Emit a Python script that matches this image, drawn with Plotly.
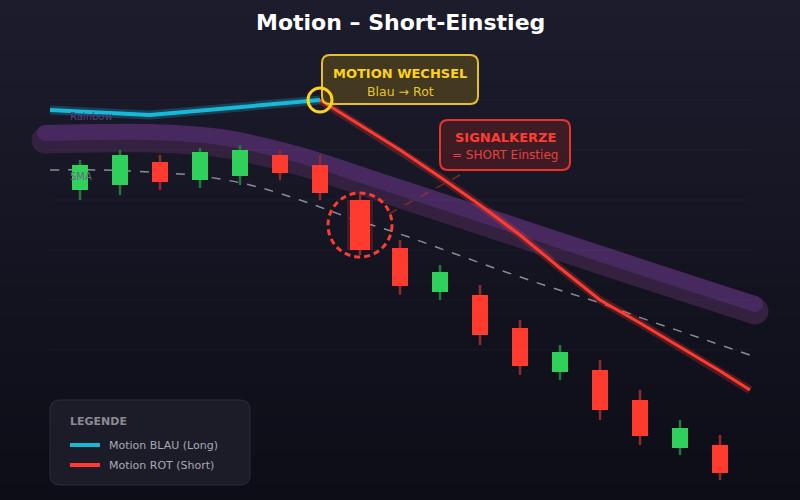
import plotly.graph_objects as go

# Kerzen (Preis-Einheiten)
kerzen_x = [80, 120, 160, 200, 240, 280, 320, 360, 400, 440, 480, 520, 560, 600, 640, 680, 720]
kerzen_open = [310, 315, 338, 320, 324, 345, 335, 300, 252, 208, 205, 172, 128, 130, 100, 52, 55]
kerzen_close = [335, 345, 318, 348, 350, 327, 307, 250, 214, 228, 165, 134, 148, 90, 64, 72, 27]
kerzen_high = [340, 350, 345, 352, 355, 350, 345, 305, 260, 235, 215, 180, 155, 140, 110, 80, 65]
kerzen_low = [300, 305, 310, 312, 315, 320, 300, 245, 205, 200, 155, 125, 120, 80, 55, 45, 20]
signal_idx = 7

# Motion Linie
blau_x = [50, 150, 320]
blau_y = [390, 385, 400]
rot_x = [320, 360, 400, 440, 480, 520, 560, 600, 640, 680, 720, 750]
rot_y = [400, 375, 350, 323, 295, 265, 232, 200, 177, 153, 129, 110]

# SMA
sma_x = [50, 100, 150, 200, 250, 300, 350, 400, 450, 500, 550, 600, 650, 700, 750]
sma_y = [330, 330, 328, 324, 315, 300, 282, 266, 248, 230, 213, 197, 179, 162, 145]

# Rainbow Band (zwei Striche)
rb_x = [45, 150, 220, 300, 380, 450, 550, 650, 755]
rb_a = [367, 368, 363, 345, 319, 296, 263, 230, 196]
rb_b = [360, 361, 356, 338, 312, 289, 256, 223, 189]

grid_levels = [400, 350, 300, 250, 200, 150]

GRUEN = "#2fd15a"
ROT = "#ff3b30"
BLAU = "#18b8d8"
GELB = "#ffd21f"
FONT = "DejaVu Sans"

fig = go.Figure()

# Hintergrund-Verlauf
fig.add_trace(go.Heatmap(x=[0, 800], y=[0, 500], z=[[0, 0], [1, 1]],
                         colorscale=[[0, "#0d0d17"], [1, "#1c1c2d"]],
                         zsmooth="best", showscale=False, hoverinfo="skip"))

# Rainbow
for ys, farbe, w in [(rb_b, "#33213f", 27), (rb_a, "#47295f", 16)]:
    fig.add_trace(go.Scatter(x=rb_x, y=ys, mode="lines",
                             line=dict(color=farbe, width=w, shape="spline", smoothing=0.8),
                             hoverinfo="skip"))
    fig.add_trace(go.Scatter(x=[rb_x[0], rb_x[-1]], y=[ys[0], ys[-1]], mode="markers",
                             marker=dict(size=w, color=farbe, line=dict(width=0)), hoverinfo="skip"))

# SMA
fig.add_trace(go.Scatter(x=sma_x, y=sma_y, mode="lines", line=dict(color="#8c8c96", width=1.5, dash="dash", shape="spline"),
                         hoverinfo="skip"))

# Kerzen: Dochte und Körper
gruppen = [
    ("up", "#1e7a3c", GRUEN, 16),
    ("down", "#8e2b2b", ROT, 16),
    ("signal", "#8e2b2b", ROT, 20),
]
for name, docht, koerper, breite in gruppen:
    wx, wy, bx, by = [], [], [], []
    for i, x in enumerate(kerzen_x):
        if i == signal_idx:
            g = "signal"
        else:
            g = "up" if kerzen_close[i] >= kerzen_open[i] else "down"
        if g != name:
            continue
        wx += [x, x, None]
        wy += [kerzen_low[i], kerzen_high[i], None]
        bx += [x, x, None]
        by += [kerzen_open[i], kerzen_close[i], None]
    if name == "signal":
        fig.add_trace(go.Scatter(x=bx, y=by, mode="lines", line=dict(color="rgba(255,59,48,0.2)", width=breite + 6),
                                 hoverinfo="skip"))
    fig.add_trace(go.Scatter(x=wx, y=wy, mode="lines", line=dict(color=docht, width=2.5), hoverinfo="skip"))
    fig.add_trace(go.Scatter(x=bx, y=by, mode="lines", line=dict(color=koerper, width=breite), hoverinfo="skip"))

# Motion Linien mit Glow
fig.add_trace(go.Scatter(x=blau_x, y=blau_y, mode="lines", line=dict(color="rgba(24,184,216,0.25)", width=9), hoverinfo="skip"))
fig.add_trace(go.Scatter(x=blau_x, y=blau_y, mode="lines", line=dict(color=BLAU, width=4), hoverinfo="skip"))
fig.add_trace(go.Scatter(x=rot_x, y=rot_y, mode="lines", line=dict(color="rgba(255,59,48,0.25)", width=8), hoverinfo="skip"))
fig.add_trace(go.Scatter(x=rot_x, y=rot_y, mode="lines", line=dict(color=ROT, width=3), hoverinfo="skip"))


def rund(x0, y0, x1, y1, r):
    return (f"M{x0 + r},{y0} L{x1 - r},{y0} Q{x1},{y0} {x1},{y0 + r} L{x1},{y1 - r} Q{x1},{y1} {x1 - r},{y1} "
            f"L{x0 + r},{y1} Q{x0},{y1} {x0},{y1 - r} L{x0},{y0 + r} Q{x0},{y0} {x0 + r},{y0} Z")


shapes = []
for g in grid_levels:
    shapes.append(dict(type="line", x0=50, x1=750, y0=g, y1=g, line=dict(color="rgba(255,255,255,0.035)", width=1)))
shapes += [
    dict(type="path", path=rund(322, 396, 478, 445, 8), fillcolor="rgba(80,68,30,0.75)", line=dict(color="#e8c020", width=2)),
    dict(type="path", path=rund(440, 330, 570, 380, 8), fillcolor="rgba(80,28,36,0.7)", line=dict(color="#e8342c", width=2)),
    dict(type="line", x0=460, y0=325, x1=383, y1=283, line=dict(color="rgba(200,50,50,0.55)", width=1.5, dash="dash")),
    dict(type="circle", x0=328, x1=392, y0=243, y1=307, line=dict(color=ROT, width=3, dash="6px,4px")),
    dict(type="circle", x0=308, x1=332, y0=388, y1=412, line=dict(color=GELB, width=3)),
    dict(type="path", path=rund(50, 15, 250, 100, 10), fillcolor="#1c1c28", line=dict(color="#2c2c3b", width=1)),
    dict(type="line", x0=70, x1=100, y0=55, y1=55, line=dict(color=BLAU, width=4)),
    dict(type="line", x0=70, x1=100, y0=35, y1=35, line=dict(color=ROT, width=4)),
]

annos = [
    dict(x=400, y=478, text="<b>Motion – Short-Einstieg</b>", font=dict(size=22, color="white")),
    dict(x=400, y=427, text="<b>MOTION WECHSEL</b>", font=dict(size=13, color=GELB)),
    dict(x=400, y=409, text="Blau → Rot", font=dict(size=12.5, color="#e8c52a")),
    dict(x=505, y=363, text="<b>SIGNALKERZE</b>", font=dict(size=13, color="#ff3d33")),
    dict(x=505, y=345, text="= SHORT Einstieg", font=dict(size=12, color="#e8403a")),
    dict(x=68, y=384, text="Rainbow", font=dict(size=10, color="#5b3f7d"), xanchor="left"),
    dict(x=68, y=324, text="SMA", font=dict(size=10, color="#6a6a78"), xanchor="left"),
    dict(x=68, y=79, text="<b>LEGENDE</b>", font=dict(size=11, color="#8a8a95"), xanchor="left"),
    dict(x=107, y=55, text="Motion BLAU (Long)", font=dict(size=11, color="#a8a8b5"), xanchor="left"),
    dict(x=107, y=35, text="Motion ROT (Short)", font=dict(size=11, color="#a8a8b5"), xanchor="left"),
]
for a in annos:
    a.update(showarrow=False, xref="x", yref="y")
    a.setdefault("xanchor", "center")
    a["font"]["family"] = FONT

fig.update_layout(
    width=800, height=500,
    margin=dict(l=0, r=0, t=0, b=0),
    paper_bgcolor="#15151f", plot_bgcolor="#15151f",
    showlegend=False,
    xaxis=dict(range=[0, 800], visible=False, fixedrange=True),
    yaxis=dict(range=[0, 500], visible=False, fixedrange=True),
    shapes=shapes, annotations=annos,
    font=dict(family=FONT),
)

fig.write_html("out.html", config={"displayModeBar": False},
               post_script="document.body.style.margin='0';document.body.style.overflow='hidden';")
